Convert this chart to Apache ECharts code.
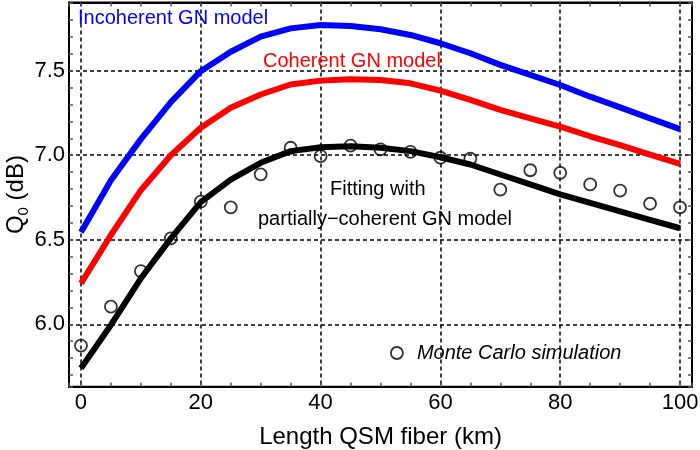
<!DOCTYPE html>
<html>
<head>
<meta charset="utf-8">
<script src="https://cdn.jsdelivr.net/npm/echarts@6/dist/echarts.min.js"></script>
<style>html,body{margin:0;padding:0;background:#fff;}#c{width:700px;height:450px;}</style>
</head>
<body>
<div id="c"></div>
<script>
var km = [0,5,10,15,20,25,30,35,40,45,50,55,60,65,70,75,80,85,90,95,100];
var incoherent = [6.545,6.852,7.095,7.314,7.497,7.612,7.701,7.750,7.770,7.764,7.745,7.711,7.662,7.603,7.534,7.475,7.415,7.346,7.283,7.218,7.154];
var coherent = [6.242,6.528,6.793,7.000,7.162,7.280,7.359,7.418,7.441,7.449,7.445,7.425,7.382,7.327,7.268,7.218,7.169,7.112,7.059,7.004,6.949];
var fitting = [5.740,5.996,6.272,6.508,6.722,6.856,6.955,7.024,7.047,7.053,7.044,7.024,6.988,6.945,6.886,6.827,6.768,6.718,6.668,6.618,6.568];
var monteCarlo = [5.874,6.104,6.315,6.508,6.725,6.692,6.887,7.044,6.994,7.057,7.034,7.020,6.985,6.979,6.797,6.911,6.896,6.827,6.791,6.713,6.692];
var xTickLabels = ['0','20','40','60','80','100'];
var yTickLabels = ['6.0','6.5','7.0','7.5'];

function pairs(ys){ return km.map(function(x,i){ return [x, ys[i]]; }); }

var FONT = 'Liberation Sans, Arial, sans-serif';
var TICK = '#555';
var chart = echarts.init(document.getElementById('c'), null, {renderer:'canvas'});

var xCommon = {min:-2, max:102, splitNumber:5};
var yCommon = {min:5.631, max:7.903, splitNumber:5};

var option = {
  animation:false,
  backgroundColor:'#fff',
  grid:{left:69, right:8, top:2.5, bottom:63.3, containLabel:false, outerBoundsMode:'none',
        show:true, borderColor:'#000', borderWidth:2, backgroundColor:'rgba(0,0,0,0)'},
  legend:{
    data:['Monte Carlo simulation'],
    left:390, top:343, padding:0,
    itemWidth:12, itemHeight:12,
    icon:'circle',
    itemStyle:{color:'rgba(0,0,0,0)', borderColor:'#000', borderWidth:1.8},
    textStyle:{fontFamily:FONT, fontSize:20, fontStyle:'italic', color:'#000', padding:[0,0,0,9]}
  },
  xAxis:[
    {type:'value', min:xCommon.min, max:xCommon.max, splitNumber:xCommon.splitNumber, position:'bottom',
      axisLine:{show:true, onZero:false, lineStyle:{color:'#000', width:2}},
      axisTick:{show:true, inside:true, length:4, lineStyle:{color:TICK, width:1.5}},
      minorTick:{show:true, splitNumber:4, length:4, lineStyle:{color:TICK, width:1.5}},
      axisLabel:{show:true, showMinLabel:false, showMaxLabel:false, margin:5,
        fontFamily:FONT, fontSize:22, color:'#000',
        formatter:function(v){ var s=String(Math.round(v)); return xTickLabels.indexOf(s)>=0 && Math.abs(v-Math.round(v))<1e-6 ? s : ''; }},
      splitLine:{show:true, showMinLine:false, showMaxLine:false, lineStyle:{color:'#000', width:1.5, type:[4,3]}},
      name:'Length QSM fiber (km)', nameLocation:'middle', nameGap:39, nameMoveOverlap:false,
      nameTextStyle:{fontFamily:FONT, fontSize:24, color:'#000'}
    },
    {type:'value', min:xCommon.min, max:xCommon.max, splitNumber:xCommon.splitNumber, position:'top',
      axisLine:{show:true, onZero:false, lineStyle:{color:'#000', width:2}},
      axisTick:{show:true, inside:true, length:4, lineStyle:{color:TICK, width:1.5}},
      minorTick:{show:true, splitNumber:4, length:4, lineStyle:{color:TICK, width:1.5}},
      axisLabel:{show:false}, splitLine:{show:false}
    }
  ],
  yAxis:[
    {type:'value', min:yCommon.min, max:yCommon.max, splitNumber:yCommon.splitNumber, position:'left',
      axisLine:{show:true, onZero:false, lineStyle:{color:'#000', width:2}},
      axisTick:{show:true, inside:true, length:4, lineStyle:{color:TICK, width:1.5}},
      minorTick:{show:true, splitNumber:5, length:4, lineStyle:{color:TICK, width:1.5}},
      axisLabel:{show:true, showMinLabel:false, showMaxLabel:false, margin:4,
        fontFamily:FONT, fontSize:22, color:'#000',
        formatter:function(v){ var s=v.toFixed(1); return (yTickLabels.indexOf(s)>=0 && Math.abs(v*2-Math.round(v*2))<1e-6) ? s : ''; }},
      splitLine:{show:true, showMinLine:false, showMaxLine:false, lineStyle:{color:'#000', width:1.5, type:[4,3]}},
      name:'Q{s|0} (dB)', nameLocation:'middle', nameGap:38, nameRotate:90, nameMoveOverlap:false,
      nameTextStyle:{fontFamily:FONT, fontSize:24, color:'#000', lineHeight:30,
        rich:{s:{fontFamily:FONT, fontSize:15, color:'#000', verticalAlign:'bottom', lineHeight:15}}}
    },
    {type:'value', min:yCommon.min, max:yCommon.max, splitNumber:yCommon.splitNumber, position:'right',
      axisLine:{show:true, onZero:false, lineStyle:{color:'#000', width:2}},
      axisTick:{show:true, inside:true, length:4, lineStyle:{color:TICK, width:1.5}},
      minorTick:{show:true, splitNumber:5, length:4, lineStyle:{color:TICK, width:1.5}},
      axisLabel:{show:false}, splitLine:{show:false}
    }
  ],
  graphic:[
    {type:'text', left:78, top:8, z:100, style:{text:'Incoherent GN model', fill:'#0000ff', font:'20px ' + FONT}},
    {type:'text', left:263, top:51, z:100, style:{text:'Coherent GN model', fill:'#ff0000', font:'20px ' + FONT}},
    {type:'text', left:330, top:179, z:100, style:{text:'Fitting with', fill:'#000', font:'20px ' + FONT}},
    {type:'text', left:258, top:209, z:100, style:{text:'partially\u2212coherent GN model', fill:'#000', font:'20px ' + FONT}}
  ],
  series:[
    {name:'Incoherent GN model', type:'line', data:pairs(incoherent), showSymbol:false, symbol:'none',
     lineStyle:{color:'#0000ff', width:6}, itemStyle:{color:'#0000ff'}, z:2},
    {name:'Coherent GN model', type:'line', data:pairs(coherent), showSymbol:false, symbol:'none',
     lineStyle:{color:'#ff0000', width:6}, itemStyle:{color:'#ff0000'}, z:2},
    {name:'Fitting', type:'line', data:pairs(fitting), showSymbol:false, symbol:'none',
     lineStyle:{color:'#000', width:6}, itemStyle:{color:'#000'}, z:3},
    {name:'Monte Carlo simulation', type:'scatter', data:pairs(monteCarlo), symbol:'circle', symbolSize:12,
     itemStyle:{color:'rgba(0,0,0,0)', borderColor:'#000', borderWidth:1.8}, z:4}
  ]
};
chart.setOption(option);
</script>
</body>
</html>
